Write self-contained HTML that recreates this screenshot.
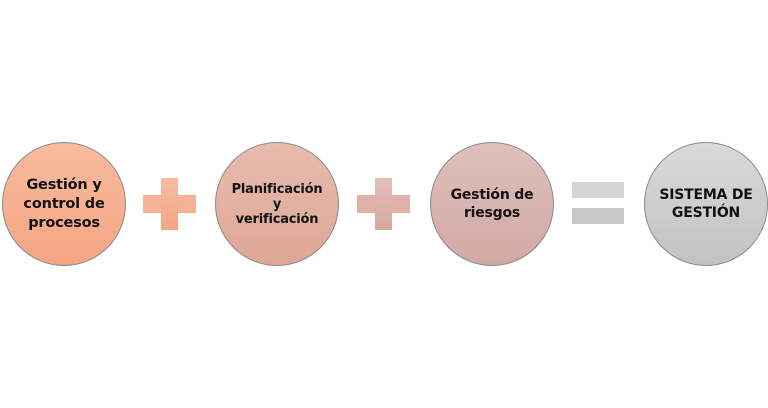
<!DOCTYPE html>
<html><head><meta charset="utf-8"><style>
body{margin:0;width:768px;height:408px;background:#fff;position:relative;overflow:hidden;font-family:"DejaVu Sans","Liberation Sans",sans-serif;}
.c{position:absolute;top:142px;width:122px;height:122px;border-radius:50%;border:1px solid #8a8a8a;display:flex;align-items:center;justify-content:center;text-align:center;font-weight:bold;color:#111;font-size:13.5px;line-height:17px;letter-spacing:-0.2px}
.b{position:absolute}
</style></head><body>
<div class="c" style="left:2px;background:linear-gradient(#f8bb9e,#f4a584);font-size:14.5px;line-height:19px">Gestión y<br>control de<br>procesos</div>
<div class="c" style="left:215px;background:linear-gradient(#e8bcb0,#dea694);font-size:13px;line-height:15px">Planificación<br>y<br>verificación</div>
<div class="c" style="left:430px;background:linear-gradient(#dec0bb,#d1a8a4);font-size:14px;line-height:18px">Gestión de<br>riesgos</div>
<div class="c" style="left:644px;background:linear-gradient(#dadada,#c2c2c2);font-size:14px;line-height:18px">SISTEMA DE<br>GESTIÓN</div>
<div class="b" style="left:143px;top:195px;width:53px;height:18px;background:#f6b295"></div>
<div class="b" style="left:161px;top:178px;width:17px;height:52px;background:linear-gradient(#f8bca0,#f4a585)"></div>
<div class="b" style="left:357px;top:195px;width:53px;height:18px;background:#dfb1a7"></div>
<div class="b" style="left:375px;top:178px;width:17px;height:52px;background:linear-gradient(#e4c0b8,#d7a89d)"></div>
<div class="b" style="left:572px;top:182px;width:52px;height:16px;background:#d6d6d6"></div>
<div class="b" style="left:572px;top:208px;width:52px;height:16px;background:#c8c8c8"></div>
</body></html>
